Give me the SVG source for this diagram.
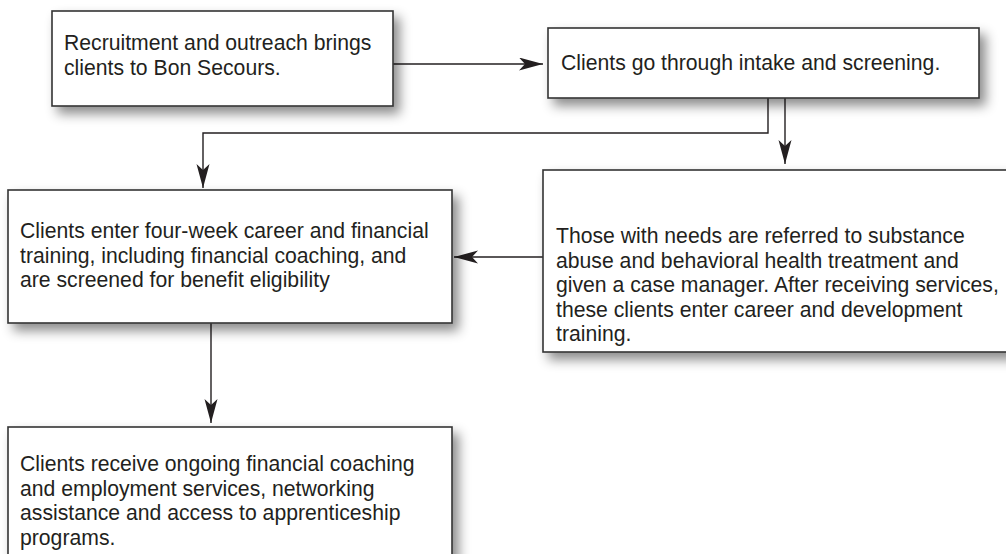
<svg xmlns="http://www.w3.org/2000/svg" width="1006" height="554" viewBox="0 0 1006 554">
  <style>
    .box { fill: #ffffff; stroke: #333333; stroke-width: 1.6; filter: url(#shadow); }
    .lbl { font-family: "Liberation Sans", Arial, sans-serif; font-size: 21.2px; fill: #231f20; }
    .conn { fill: none; stroke: #231f20; stroke-width: 1.4; marker-end: url(#arrow); }
  </style>
  <defs>
    <filter id="shadow" x="-10%" y="-20%" width="130%" height="160%">
      <feDropShadow dx="6" dy="7" stdDeviation="6" flood-color="#000000" flood-opacity="0.45"/>
    </filter>
    <marker id="arrow" markerUnits="userSpaceOnUse" markerWidth="26" markerHeight="14" refX="24" refY="6.5" orient="auto">
      <path d="M0,0 L24,6.5 L0,13 L6,6.5 Z" fill="#231f20"/>
    </marker>
  </defs>
  <rect width="1006" height="554" fill="#ffffff"/>

  <g id="connectors">
    <path class="conn" d="M393,64 H543"/>
    <path class="conn" d="M768,98 V133 H203 V188"/>
    <path class="conn" d="M785,98 V164"/>
    <path class="conn" d="M543,257 H454"/>
    <path class="conn" d="M211,323 V423"/>
  </g>

  <g id="node-recruitment">
    <rect class="box" x="52" y="11" width="341" height="95"/>
    <text class="lbl" x="64" y="50">Recruitment and outreach brings<tspan x="64" y="75">clients to Bon Secours.</tspan></text>
  </g>

  <g id="node-intake">
    <rect class="box" x="548" y="28" width="431" height="70"/>
    <text class="lbl" x="561" y="70">Clients go through intake and screening.</text>
  </g>

  <g id="node-training">
    <rect class="box" x="8" y="190" width="444" height="133"/>
    <text class="lbl" x="20" y="238">Clients enter four-week career and financial<tspan x="20" y="263">training, including financial coaching, and</tspan><tspan x="20" y="287">are screened for benefit eligibility</tspan></text>
  </g>

  <g id="node-referral">
    <rect class="box" x="543" y="170" width="480" height="182"/>
    <text class="lbl" x="556" y="243">Those with needs are referred to substance<tspan x="556" y="268">abuse and behavioral health treatment and</tspan><tspan x="556" y="292">given a case manager. After receiving services,</tspan><tspan x="556" y="317">these clients enter career and development</tspan><tspan x="556" y="341">training.</tspan></text>
  </g>

  <g id="node-ongoing">
    <rect class="box" x="8" y="427" width="444" height="150"/>
    <text class="lbl" x="20" y="471">Clients receive ongoing financial coaching<tspan x="20" y="496">and employment services, networking</tspan><tspan x="20" y="520">assistance and access to apprenticeship</tspan><tspan x="20" y="545">programs.</tspan></text>
  </g>
</svg>
